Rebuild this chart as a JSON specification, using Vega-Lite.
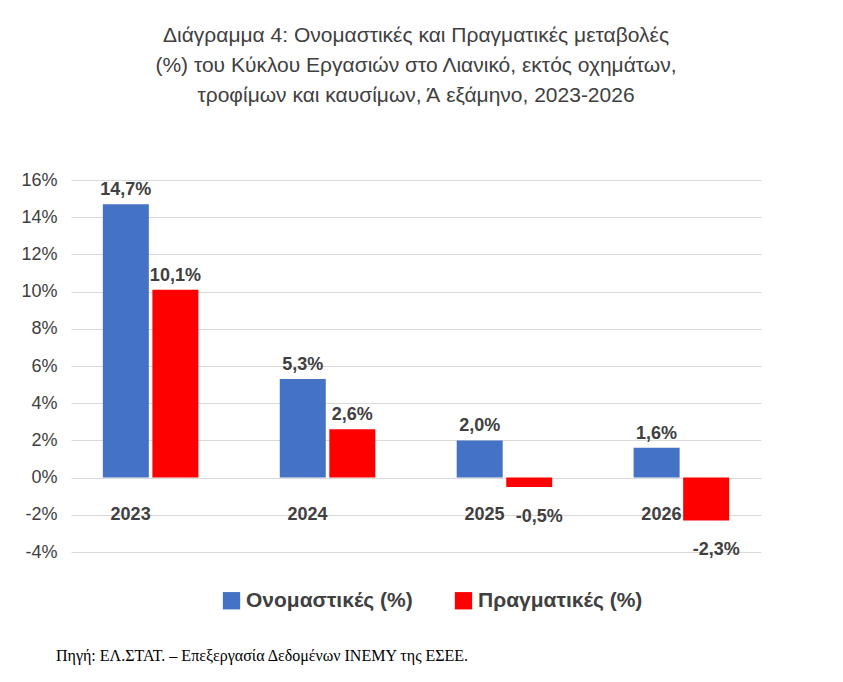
{
  "$schema": "https://vega.github.io/schema/vega-lite/v6.json",
  "background": "white",
  "padding": {"left": 20, "right": 10, "top": 25, "bottom": 5},
  "datasets": {
    "bars": [
      {"year": "2023", "series": "Ονομαστικές (%)", "value": 14.7, "label": "14,7%"},
      {"year": "2023", "series": "Πραγματικές (%)", "value": 10.1, "label": "10,1%"},
      {"year": "2024", "series": "Ονομαστικές (%)", "value": 5.3, "label": "5,3%"},
      {"year": "2024", "series": "Πραγματικές (%)", "value": 2.6, "label": "2,6%"},
      {"year": "2025", "series": "Ονομαστικές (%)", "value": 2.0, "label": "2,0%"},
      {"year": "2025", "series": "Πραγματικές (%)", "value": -0.5, "label": "-0,5%"},
      {"year": "2026", "series": "Ονομαστικές (%)", "value": 1.6, "label": "1,6%"},
      {"year": "2026", "series": "Πραγματικές (%)", "value": -2.3, "label": "-2,3%"}
    ],
    "years": [
      {"year": "2023", "value": -2},
      {"year": "2024", "value": -2},
      {"year": "2025", "value": -2},
      {"year": "2026", "value": -2}
    ],
    "note": [{"text": "Πηγή: ΕΛ.ΣΤΑΤ. – Επεξεργασία Δεδομένων ΙΝΕΜΥ της ΕΣΕΕ."}]
  },
  "vconcat": [
    {
      "title": {
        "text": [
          "Διάγραμμα 4: Ονομαστικές και Πραγματικές μεταβολές",
          "(%) του Κύκλου Εργασιών στο Λιανικό, εκτός οχημάτων,",
          "τροφίμων και καυσίμων, Ά εξάμηνο, 2023-2026"
        ],
        "font": "Liberation Sans",
        "fontSize": 21,
        "fontWeight": "normal",
        "color": "#404040",
        "lineHeight": 30,
        "offset": 65
      },
      "width": 690,
      "height": 372,
      "encoding": {
        "y": {
          "field": "value", "type": "quantitative",
          "scale": {"domain": [-4, 16]},
          "axis": {
            "title": null, "values": [-4, -2, 0, 2, 4, 6, 8, 10, 12, 14, 16],
            "labelExpr": "datum.value + '%'", "labelFontSize": 18, "labelColor": "#404040",
            "labelFont": "Liberation Sans", "domain": false, "ticks": false, "labelOverlap": false,
            "gridColor": "#d9d9d9", "labelPadding": 14
          }
        }
      },
      "layer": [
        {
          "data": {"name": "bars"},
          "mark": {"type": "bar", "width": 46},
          "encoding": {
            "x": {"field": "year", "type": "nominal", "axis": null, "scale": {"paddingInner": 0.3, "paddingOuter": 0.1}},
            "xOffset": {"field": "series", "type": "nominal", "scale": {"paddingInner": 0, "paddingOuter": 0.25}},
            "color": {
              "field": "series", "type": "nominal",
              "scale": {"range": ["#4472C4", "#FF0000"]},
              "legend": {
                "title": null, "orient": "none", "legendX": 150, "legendY": 410, "direction": "horizontal",
                "symbolType": "square", "symbolSize": 300, "symbolStrokeWidth": 0, "labelLimit": 300,
                "labelFontSize": 21, "labelFontWeight": "bold", "labelColor": "#404040",
                "labelFont": "Liberation Sans", "columnPadding": 40
              }
            }
          }
        },
        {
          "data": {"name": "bars"},
          "transform": [{"filter": "datum.value >= 0"}],
          "mark": {"type": "text", "dy": -14, "fontSize": 18, "fontWeight": "bold", "color": "#404040", "font": "Liberation Sans"},
          "encoding": {
            "x": {"field": "year", "type": "nominal"},
            "xOffset": {"field": "series", "type": "nominal"},
            "text": {"field": "label"}
          }
        },
        {
          "data": {"name": "bars"},
          "transform": [{"filter": "datum.value < 0"}],
          "mark": {"type": "text", "dy": 30, "dx": 10, "fontSize": 18, "fontWeight": "bold", "color": "#404040", "font": "Liberation Sans"},
          "encoding": {
            "x": {"field": "year", "type": "nominal"},
            "xOffset": {"field": "series", "type": "nominal"},
            "text": {"field": "label"}
          }
        },
        {
          "data": {"name": "years"},
          "mark": {"type": "text", "dx": -20, "fontSize": 18, "fontWeight": "bold", "color": "#404040", "font": "Liberation Sans"},
          "encoding": {
            "x": {"field": "year", "type": "nominal"},
            "text": {"field": "year"}
          }
        }
      ]
    },
    {
      "data": {"name": "note"},
      "width": 780,
      "height": 20,
      "mark": {"type": "text", "align": "left", "fontSize": 16, "font": "Liberation Serif", "color": "black"},
      "encoding": {
        "x": {"value": -15},
        "text": {"field": "text"}
      }
    }
  ],
  "config": {"view": {"stroke": null}, "concat": {"spacing": 85}}
}
